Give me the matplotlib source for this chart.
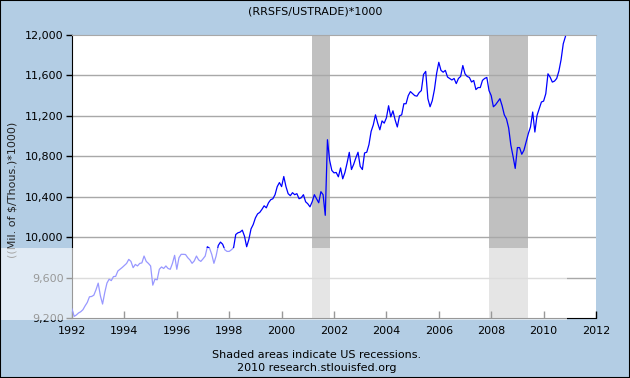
import matplotlib
matplotlib.use('Agg')
import matplotlib.pyplot as plt
from matplotlib.patches import Rectangle
import numpy as np

# monthly values of (RRSFS/USTRADE)*1000
v1992=[9289,9216,9230,9250,9262,9282,9320,9354,9410,9413,9426,9480]
v1993=[9545,9420,9338,9452,9545,9584,9570,9610,9612,9665,9682,9700]
v1994=[9720,9740,9780,9760,9698,9730,9715,9740,9745,9813,9760,9740]
v1995=[9715,9525,9584,9578,9682,9705,9690,9715,9690,9682,9740,9820]
v1996=[9682,9797,9830,9830,9828,9797,9775,9741,9765,9813,9775,9760]
v1997=[9785,9813,9905,9890,9830,9741,9813,9918,9951,9930,9875,9859]
v1998=[9859,9875,9895,10026,10043,10050,10069,10010,9905,9977,10082,10125]
v1999=[10190,10230,10245,10275,10310,10290,10340,10370,10380,10420,10500,10540]
v2000=[10500,10600,10500,10430,10410,10440,10420,10430,10380,10390,10420,10350]
v2001=[10330,10300,10350,10420,10380,10340,10450,10420,10216,10964,10760,10660]
v2002=[10636,10640,10597,10685,10577,10640,10734,10839,10669,10720,10784,10840]
v2003=[10700,10669,10833,10840,10915,11046,11111,11210,11128,11062,11150,11128]
v2004=[11180,11300,11190,11250,11160,11090,11200,11210,11320,11320,11400,11440]
v2005=[11420,11400,11395,11430,11450,11610,11640,11370,11290,11350,11460,11620]
v2006=[11730,11650,11632,11650,11584,11570,11555,11570,11519,11570,11590,11698]
v2007=[11616,11590,11580,11535,11550,11460,11480,11480,11551,11570,11580,11450]
v2008=[11400,11290,11310,11340,11370,11300,11210,11170,11080,10910,10800,10680]
v2009=[10886,10886,10820,10860,10942,11024,11090,11238,11040,11205,11270,11337]
v2010=[11346,11419,11616,11583,11534,11544,11570,11643,11755,11913,11985]

recessions=[(2001+2/12,2001+10/12),(2007+11/12,2009+5/12)]
yticks=[9200,9600,10000,10400,10800,11200,11600,12000]
xticks=[1992,1994,1996,1998,2000,2002,2004,2006,2008,2010,2012]

vals=np.array(v1992+v1993+v1994+v1995+v1996+v1997+v1998+v1999+v2000+
              v2001+v2002+v2003+v2004+v2005+v2006+v2007+v2008+v2009+v2010,dtype=float)
t=1992+np.arange(len(vals))/12

bg='#b3cde4'
fig=plt.figure(figsize=[6.3,3.78],dpi=100,facecolor=bg)
ax=fig.add_axes([72/630,1-318/378,524/630,283/378])
ax.set_facecolor('white')

for a,b in recessions:
	ax.axvspan(a,b,color='#c0c0c0',lw=0,zorder=1)
for y in yticks[1:-1]:
	ax.axhline(y,color='#a8a8a8',lw=1,zorder=2)
ax.plot(t,vals,color='#0000ff',lw=0.9,zorder=3)

ax.set_xlim(1992,2012)
ax.set_ylim(9200,12000)
ax.set_xticks(xticks)
ax.set_xticklabels([str(x) for x in xticks],fontsize=8)
ax.set_yticks(yticks)
ax.set_yticklabels([f'{y:,}' for y in yticks],fontsize=8)
ax.tick_params(axis='x',direction='in',length=5,width=1,pad=6,colors='black')
ax.tick_params(axis='y',direction='out',length=4,width=1,pad=2)
ax.spines['right'].set_visible(False)
ax.spines['top'].set_color('#a8a8a8')
ax.spines['left'].set_color('black')
ax.spines['bottom'].set_color('black')

fig.text(0.5,1-12/378,'(RRSFS/USTRADE)*1000',ha='center',va='center',fontsize=8)
fig.text(13/630,1-190/378,'((Mil. of $/Thous.)*1000)',rotation=90,ha='center',va='center',fontsize=8,color='#222222')
fig.text(317/630,1-355/378,'Shaded areas indicate US recessions.',ha='center',va='center',fontsize=8)
fig.text(317/630,1-368/378,'2010 research.stlouisfed.org',ha='center',va='center',fontsize=8)

# light band from the watermark overlay
fig.add_artist(Rectangle((1/630,1-320/378),566/630,72/378,transform=fig.transFigure,
	facecolor='white',alpha=0.6,lw=0,zorder=10))
fig.add_artist(Rectangle((0,0),1,1,transform=fig.transFigure,fill=False,edgecolor='black',lw=1.5,zorder=11))

plt.savefig('out.png',dpi=100,facecolor=bg)
